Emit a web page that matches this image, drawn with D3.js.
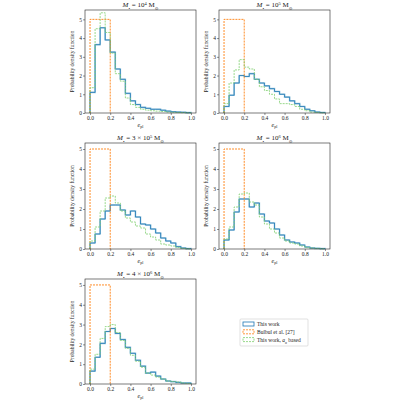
<!DOCTYPE html>
<html><head><meta charset="utf-8">
<script src="https://cdn.jsdelivr.net/npm/d3@7"></script>
<style>body{margin:0;background:#fff}text{font-family:"Liberation Serif","DejaVu Serif",serif;fill:#222}</style>
</head><body>
<svg id="fig" width="400" height="400"></svg>
<script>
// bins of width 0.05 from 0 to 1
var binEdges = d3.range(0, 1.0001, 0.05);
var titles = [["10", "4"], ["10", "5"], ["3 × 10", "5"], ["10", "6"], ["4 × 10", "6"]];
var thisWork = [
    [1.1,3.65,4.55,3.9,3.25,2.35,1.8,1.05,0.65,0.45,0.3,0.25,0.2,0.2,0.15,0.1,0.07,0.05,0.04,0.02],
    [0.35,0.95,1.6,2.0,1.95,2.1,1.8,1.6,1.45,1.3,1.15,1.0,0.85,0.65,0.5,0.35,0.2,0.12,0.05,0.03],
    [0.3,0.75,1.5,1.9,2.2,2.2,1.95,1.7,1.9,1.6,1.25,1.2,1.0,0.8,0.55,0.4,0.3,0.12,0.05,0.02],
    [0.45,0.95,1.85,2.5,2.5,2.1,2.3,1.75,1.4,1.3,1.0,0.7,0.45,0.35,0.3,0.2,0.1,0.05,0.03,0.02],
    [0.65,1.35,2.05,2.65,2.8,2.55,2.25,1.85,1.55,1.2,0.9,0.55,0.6,0.4,0.25,0.15,0.12,0.08,0.05,0.05]
];
var aoBased = [
    [1.35,4.5,5.35,4.3,3.2,2.1,1.7,0.8,0.45,0.3,0.2,0.15,0.12,0.1,0.08,0.05,0.04,0.03,0.02,0.01],
    [0.5,1.6,2.3,2.85,2.45,2.35,1.8,1.4,1.2,1.0,0.75,0.5,0.5,0.45,0.35,0.2,0.12,0.05,0.03,0.01],
    [0.4,1.1,1.9,2.55,2.65,2.3,1.9,1.55,1.35,1.15,1.05,0.75,0.6,0.45,0.25,0.2,0.15,0.08,0.03,0.01],
    [0.5,1.1,2.1,2.75,2.8,2.35,2.2,1.6,1.25,1.0,0.8,0.55,0.4,0.3,0.25,0.15,0.08,0.05,0.03,0.01],
    [0.75,1.5,2.3,2.9,3.0,2.6,2.2,1.8,1.45,1.15,0.85,0.55,0.45,0.35,0.25,0.15,0.12,0.1,0.05,0.03]
];
var bulbulEdges = [0, 0.2];
var bulbul = [5];
var xTicks = [0, 0.2, 0.4, 0.6, 0.8, 1.0];
var yTicks = [0, 1, 2, 3, 4, 5];

var svg = d3.select("#fig");
var cols = [[85, 196], [219, 330]];
var rows = [[10, 113, 5.5], [143, 249, 5.3], [279, 384, 5.3]];

function stepPts(edges, vals) {
    var pts = [[edges[0], 0]];
    vals.forEach((v, i) => { pts.push([edges[i], v]); pts.push([edges[i + 1], v]); });
    pts.push([edges[vals.length], 0]);
    return pts;
}

function panel(k) {
    var c = cols[k % 2], r = rows[Math.floor(k / 2)];
    var x = d3.scaleLinear().domain([-0.05, 1.05]).range(c);
    var y = d3.scaleLinear().domain([0, r[2]]).range([r[1], r[0]]);
    var g = svg.append("g");
    var line = d3.line().x(d => x(d[0])).y(d => y(d[1]));

    g.append("path").datum(stepPts(binEdges, thisWork[k])).attr("d", line)
        .attr("fill", "none").attr("stroke", "#9ecae1").attr("stroke-width", 1.6);
    g.append("path").datum(stepPts(binEdges, thisWork[k])).attr("d", line)
        .attr("fill", "none").attr("stroke", "#1f77b4").attr("stroke-width", 0.8);
    g.append("path").datum(stepPts(bulbulEdges, bulbul)).attr("d", line)
        .attr("fill", "none").attr("stroke", "#ff7f0e").attr("stroke-width", 0.9).attr("stroke-dasharray", "2,1");
    g.append("path").datum(stepPts(binEdges, aoBased[k])).attr("d", line)
        .attr("fill", "none").attr("stroke", "#7fcf6f").attr("stroke-width", 0.8).attr("stroke-dasharray", "2,1");

    g.append("rect").attr("x", c[0]).attr("y", r[0]).attr("width", c[1] - c[0]).attr("height", r[1] - r[0])
        .attr("fill", "none").attr("stroke", "#222").attr("stroke-width", 0.6);

    var xa = g.append("g").attr("transform", `translate(0,${r[1]})`)
        .call(d3.axisBottom(x).tickValues(xTicks).tickFormat(d3.format(".1f")).tickSize(2).tickSizeOuter(0));
    var ya = g.append("g").attr("transform", `translate(${c[0]},0)`)
        .call(d3.axisLeft(y).tickValues(yTicks).tickFormat(d3.format("d")).tickSize(2).tickSizeOuter(0));
    [xa, ya].forEach(a => {
        a.select(".domain").remove();
        a.selectAll("line").attr("stroke", "#222").attr("stroke-width", 0.5);
        a.selectAll("text").style("font-size", "5.5px").style("font-family", "Liberation Serif, serif");
    });
    xa.selectAll("text").attr("dy", "0.9em").attr("y", 2);
    ya.selectAll("text").attr("x", -3);

    var xl = g.append("text").attr("x", (c[0] + c[1]) / 2).attr("y", r[1] + 13.5)
        .attr("text-anchor", "middle").style("font-size", "6px");
    xl.append("tspan").style("font-style", "italic").text("e");
    xl.append("tspan").attr("dy", 1.2).style("font-size", "4px").text("pl");

    g.append("text").attr("transform", `translate(${c[0] - 11},${(r[0] + r[1]) / 2}) rotate(-90)`)
        .attr("text-anchor", "middle").style("font-size", "5.5px").text("Probability density function");

    var t = g.append("text").attr("x", (c[0] + c[1]) / 2).attr("y", r[0] - 3)
        .attr("text-anchor", "middle").style("font-size", "7px");
    t.append("tspan").style("font-style", "italic").text("M");
    t.append("tspan").attr("baseline-shift", "sub").style("font-size", "4.5px").text("•");
    t.append("tspan").text(" = " + titles[k][0]);
    t.append("tspan").attr("baseline-shift", "super").style("font-size", "4.5px").text(titles[k][1]);
    t.append("tspan").text(" M");
    t.append("tspan").attr("baseline-shift", "sub").style("font-size", "4.5px").text("⊙");
}

for (let k = 0; k < 5; k++) panel(k);

// legend
var legendEntries = [
    { label: "This work", color: "#1f77b4", dash: null },
    { label: "Bulbul et al. [27]", color: "#ff7f0e", dash: "2,1" },
    { label: "This work, ", sub: true, color: "#7fcf6f", dash: "2,1" }
];
var lg = svg.append("g").attr("transform", "translate(240,319)");
lg.append("rect").attr("width", 68).attr("height", 27).attr("rx", 1)
    .attr("fill", "#fff").attr("stroke", "#ccc").attr("stroke-width", 0.6);
legendEntries.forEach((d, i) => {
    lg.append("rect").attr("x", 3).attr("y", 3 + i * 7.8).attr("width", 11).attr("height", 4)
        .attr("fill", "none").attr("stroke", d.color).attr("stroke-width", 0.8)
        .attr("stroke-dasharray", d.dash);
    var t = lg.append("text").attr("x", 17).attr("y", 7 + i * 7.8).style("font-size", "5.5px").text(d.label);
    if (d.sub) {
        t.append("tspan").style("font-style", "italic").text("a");
        t.append("tspan").attr("baseline-shift", "sub").style("font-size", "3.8px").text("o");
        t.append("tspan").text(" based");
    }
});
</script>
</body></html>
